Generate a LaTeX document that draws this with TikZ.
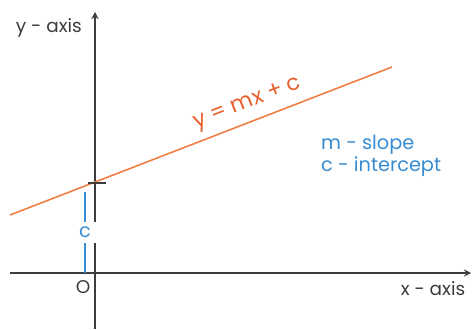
\documentclass[tikz,border=0pt]{standalone}
\usepackage{fontspec}
\setmainfont{Poppins}
\usepackage{xcolor}
\definecolor{axisgray}{RGB}{60,60,60}
\definecolor{lineorange}{RGB}{240,125,65}
\definecolor{textorange}{RGB}{232,95,45}
\definecolor{textblue}{RGB}{55,140,210}
\tikzset{
    axis/.style={draw=axisgray, line width=0.8pt, ->, >=stealth},
    lbl/.style={text=axisgray, font=\fontsize{10.5}{12}\selectfont},
    bluelbl/.style={text=textblue, font=\fontsize{11}{13.5}\selectfont}
}

\begin{document}
\begin{tikzpicture}
    \useasboundingbox (0,0) rectangle (9.44,6.58);

\coordinate (O) at (1.9,1.12);
\coordinate (Ybot) at (1.9,0);
\coordinate (Ytop) at (1.9,6.34);
\coordinate (Xleft) at (0.2,1.12);
\coordinate (Xright) at (9.42,1.12);

\draw[axis] (Xleft)--(Xright);
\draw[axis] (Ybot)--(Ytop);

    \coordinate (L1) at (0.2,2.28);
    \coordinate (L2) at (7.84,5.24);
    \draw[lineorange, line width=0.9pt] (L1)--(L2);
    \coordinate (T1) at (1.76,2.92);
    \coordinate (T2) at (2.12,2.92);
    \draw[axisgray, line width=0.6pt] (T1)--(T2);

    \coordinate (C1) at (1.7,1.12);
    \coordinate (C2) at (1.7,2.74);
    \draw[textblue, line width=0.9pt] (C1)--node[fill=white, inner sep=3pt, bluelbl] (c) {c} (C2);

    \node [lbl] (o) at (1.66,0.84) {O};
    \node [lbl, anchor=east] (ylab) at (1.76,6.02) {y - axis};
    \node [lbl] (xlab) at (8.66,0.8) {x - axis};
    \node [text=textorange, font=\fontsize{12.5}{14}\selectfont, rotate=21.2] (eq) at (4.96,4.5) {y = mx + c};
    \node [bluelbl, anchor=west, align=left] (slope) at (6.3,3.68) {m - slope};
    \node [bluelbl, anchor=west, align=left] (icpt) at (6.3,3.24) {c - intercept};
\end{tikzpicture}
\end{document}
